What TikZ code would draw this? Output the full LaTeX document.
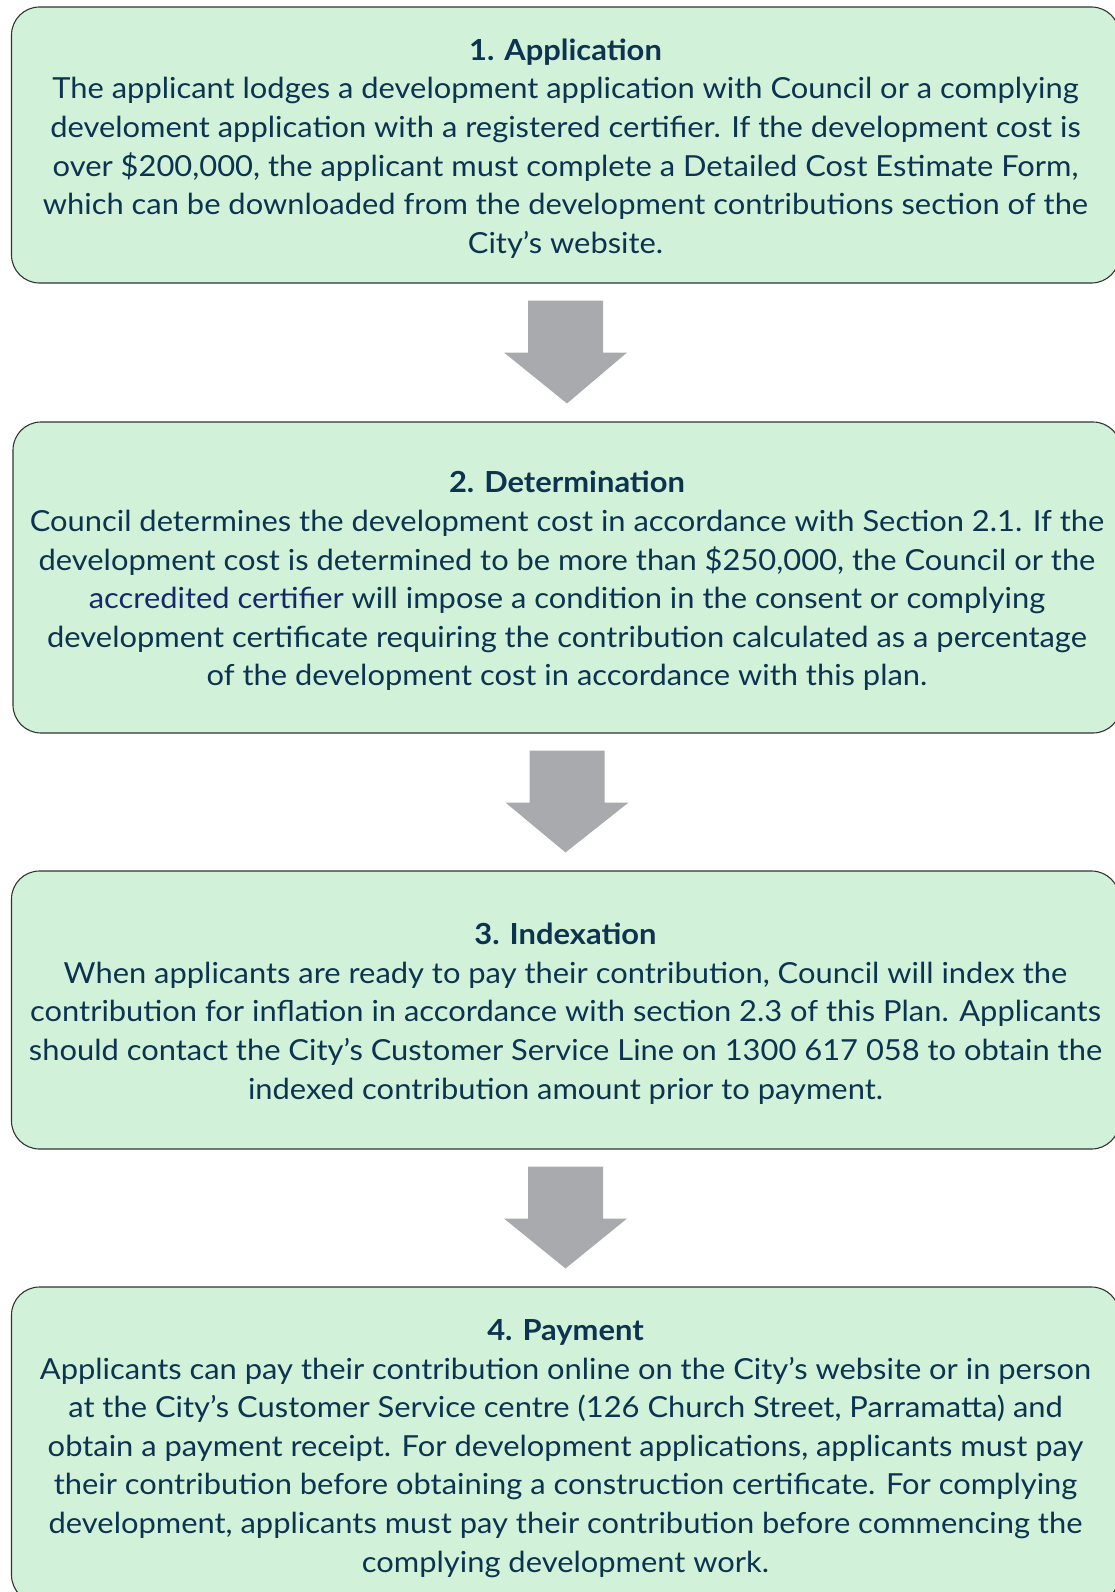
\documentclass[tikz,border=0pt]{standalone}
\usepackage{fontspec}
\setmainfont{Lato}[FakeStretch=1.065]
\usetikzlibrary{calc}
\definecolor{boxfill}{HTML}{D1F2D9}
\definecolor{txt}{HTML}{0C3350}
\definecolor{txtblue}{HTML}{15296A}
\definecolor{arrgray}{HTML}{A9AAAE}
\definecolor{edge}{HTML}{333333}
\begin{document}
\begin{tikzpicture}[x=1pt,y=-1pt,
  stepbox/.style={draw=edge,line width=1.1pt,fill=boxfill,rounded corners=28pt,
    minimum width=1108pt,align=center,text=txt,inner sep=0pt,
    font=\fontsize{29}{38.6}\selectfont},
  flowarrow/.style={fill=arrgray,draw=none}]
\useasboundingbox (0,0) rectangle (1114,1592);
\node[stepbox,minimum height=276pt] (b1) at (565.5,145) {};
\node[stepbox,minimum height=311pt] (b2) at (567,577.5) {};
\node[stepbox,minimum height=278pt] (b3) at (565.5,1010) {};
\node[stepbox,minimum height=316pt] (b4) at (565.5,1445) {};
\node[stepbox,draw=none,fill=none] (t1) at ($(b1.center)+(0,3.5)$) {\textbf{1. Application}\\
The applicant lodges a development application with Council or a complying\\
develoment application with a registered certifier. If the development cost is\\
over \$200,000, the applicant must complete a Detailed Cost Estimate Form,\\
which can be downloaded from the development contributions section of the\\
City’s website.};
\node[stepbox,draw=none,fill=none] (t2) at ($(b2.center)+(0,3.5)$) {\textbf{2. Determination}\\
Council determines the development cost in accordance with Section 2.1. If the\\
development cost is determined to be more than \$250,000, the Council or the\\
{\color{txtblue}accredited certifier} will impose a condition in the consent or complying\\
development certificate requiring the contribution calculated as a percentage\\
of the development cost in accordance with this plan.};
\node[stepbox,draw=none,fill=none] (t3) at ($(b3.center)+(0,3.5)$) {\textbf{3. Indexation}\\
When applicants are ready to pay their contribution, Council will index the\\
contribution for inflation in accordance with section 2.3 of this Plan. Applicants\\
should contact the City’s Customer Service Line on 1300 617 058 to obtain the\\
indexed contribution amount prior to payment.};
\node[stepbox,draw=none,fill=none] (t4) at ($(b4.center)+(0,3.5)$) {\textbf{4. Payment}\\
Applicants can pay their contribution online on the City’s website or in person\\
at the City’s Customer Service centre (126 Church Street, Parramatta) and\\
obtain a payment receipt. For development applications, applicants must pay\\
their contribution before obtaining a construction certificate. For complying\\
development, applicants must pay their contribution before commencing the\\
complying development work.};
\foreach \a/\b in {b1/b2,b2/b3,b3/b4}{
  \coordinate (top\a) at ($(\a.south)+(0,17)$);
  \coordinate (tip\a) at ($(\b.north)+(0,-18)$);
  \fill[flowarrow] ($(top\a)+(-37.5,0)$) -- ($(top\a)+(37.5,0)$)
    -- ($(top\a)+(37.5,52)$) -- ($(top\a)+(61.5,52)$) -- (tip\a)
    -- ($(top\a)+(-61.5,52)$) -- ($(top\a)+(-37.5,52)$) -- cycle;
}
\end{tikzpicture}
\end{document}
